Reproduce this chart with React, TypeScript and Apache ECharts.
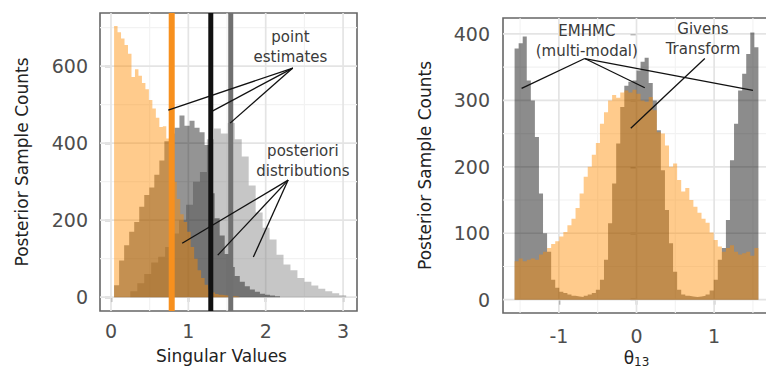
import React, { useEffect, useRef } from "react";
import * as echarts from "echarts";

// ---------- data: left panel (singular values) ----------
const svTicksX = [0, 1, 2, 3];
const svTicksY = [0, 200, 400, 600];
const svMinorX = [0.5, 1.5, 2.5];
const svMinorY = [100, 300, 500, 700];

const svOrangeStart = 0.04;
const svOrangeWidth = 0.045;
const svOrange = [704, 688, 672, 655, 632, 572, 592, 575, 556, 540, 512, 490, 466, 442, 444, 412, 380, 300, 255, 215, 195, 170, 130, 100, 70, 50, 32, 20, 12, 8, 6, 5, 4, 3, 2, 1];

const svBlackStart = 0.04;
const svBlackWidth = 0.065;
const svBlack = [31, 95, 135, 170, 195, 235, 265, 285, 318, 355, 405, 425, 440, 472, 445, 458, 440, 428, 395, 270, 205, 160, 112, 78, 55, 40, 28, 20, 14, 9, 6, 4, 2];

const svGreyStart = 0.25;
const svGreyWidth = 0.09;
const svGrey = [15, 36, 60, 90, 105, 130, 165, 200, 240, 300, 325, 410, 438, 425, 452, 410, 365, 290, 220, 180, 150, 110, 85, 70, 50, 40, 30, 22, 15, 10, 5];

const svPointEstimates = [0.785, 1.29, 1.548];

const svPointFrom = [2.35, 595];
const svPointTo = [[0.74, 486], [1.31, 483], [1.54, 452]];
const svPostFrom = [2.29, 304];
const svPostTo = [[0.92, 140], [1.38, 109], [1.84, 104]];
const svTexts = ["point\nestimates", "posteriori\ndistributions"];
const svTextPos = [[2.32, 649], [2.48, 354]];

// ---------- data: right panel (theta_13) ----------
const thTicksX = [-1, 0, 1];
const thTicksY = [0, 100, 200, 300, 400];
const thMinorX = [-1.5, -0.5, 0.5, 1.5];
const thMinorY = [50, 150, 250, 350];

const thStart = -1.5708;
const thWidth = 0.05236;
const givens = [58, 62, 58, 60, 62, 60, 68, 72, 78, 84, 88, 95, 102, 112, 122, 138, 160, 185, 200, 218, 236, 265, 282, 300, 308, 304, 312, 315, 312, 316, 310, 300, 298, 305, 285, 252, 250, 232, 200, 205, 180, 163, 168, 150, 140, 131, 122, 116, 101, 90, 80, 72, 78, 82, 72, 68, 70, 72, 66, 78];
const emhmc = [378, 386, 396, 330, 300, 245, 160, 100, 72, 30, 18, 12, 10, 8, 6, 5, 4, 6, 8, 10, 15, 30, 60, 115, 175, 235, 290, 322, 328, 330, 345, 358, 364, 326, 300, 255, 195, 135, 85, 42, 15, 8, 6, 5, 4, 5, 6, 8, 14, 30, 60, 78, 120, 210, 265, 315, 340, 370, 402, 380];

const thEmFrom = [-0.667, 363];
const thEmTo = [[-1.48, 318], [0.107, 319], [1.5, 315]];
const thGivFrom = [0.88, 363];
const thGivTo = [[-0.074, 258]];
const thTexts = ["EMHMC\n(multi-modal)", "Givens\nTransform"];
const thTextPos = [[-0.64, 390], [0.856, 392]];

// ---------- helpers ----------
const FONT = '"DejaVu Sans", sans-serif';
const TICK_COLOR = "#4D4D4D";
const TITLE_COLOR = "#222222";
const TICK_SIZE = 19;

function histData(start: number, width: number, counts: number[]) {
  const pts: number[][] = counts.map((c, i) => [start + i * width, c]);
  pts.push([start + counts.length * width, counts[counts.length - 1]]);
  return pts;
}

function histSeries(gi: number, start: number, width: number, counts: number[], color: string, opacity: number, z: number) {
  return {
    type: "line",
    xAxisIndex: gi,
    yAxisIndex: gi,
    data: histData(start, width, counts),
    step: "end",
    symbol: "none",
    showSymbol: false,
    silent: true,
    lineStyle: { width: 0, opacity: 0 },
    areaStyle: { color, opacity },
    z,
  };
}

function gridLineSeries(gi: number, xs: number[], ys: number[], major: boolean) {
  const data: number[][] = [];
  xs.forEach((v) => data.push([v, 0]));
  ys.forEach((v) => data.push([v, 1]));
  return {
    type: "custom",
    xAxisIndex: gi,
    yAxisIndex: gi,
    silent: true,
    z: 1,
    data,
    renderItem: (params: any, api: any) => {
      const v = api.value(0);
      const dir = api.value(1);
      const cs = params.coordSys;
      let shape;
      if (dir === 0) {
        const p = api.coord([v, 0]);
        shape = { x1: p[0], y1: cs.y, x2: p[0], y2: cs.y + cs.height };
      } else {
        const p = api.coord([0, v]);
        shape = { x1: cs.x, y1: p[1], x2: cs.x + cs.width, y2: p[1] };
      }
      return {
        type: "line",
        shape,
        style: { stroke: major ? "#E4E4E4" : "#F2F2F2", lineWidth: major ? 1.7 : 1.1 },
      };
    },
  };
}

function vLineSeries(gi: number, x: number, yMin: number, yMax: number, color: string, width: number) {
  return {
    type: "line",
    xAxisIndex: gi,
    yAxisIndex: gi,
    data: [[x, yMin], [x, yMax]],
    symbol: "none",
    silent: true,
    lineStyle: { color, width },
    z: 3,
  };
}

function segSeries(gi: number, from: number[], tos: number[][]) {
  return {
    type: "custom",
    xAxisIndex: gi,
    yAxisIndex: gi,
    silent: true,
    z: 4,
    data: tos.map((t) => [from[0], from[1], t[0], t[1]]),
    renderItem: (params: any, api: any) => {
      const a = api.coord([api.value(0), api.value(1)]);
      const b = api.coord([api.value(2), api.value(3)]);
      return {
        type: "line",
        shape: { x1: a[0], y1: a[1], x2: b[0], y2: b[1] },
        style: { stroke: "#111111", lineWidth: 1.3 },
      };
    },
  };
}

function textSeries(gi: number, pos: number[][], texts: string[]) {
  return {
    type: "custom",
    xAxisIndex: gi,
    yAxisIndex: gi,
    silent: true,
    z: 5,
    data: pos,
    renderItem: (params: any, api: any) => {
      const p = api.coord([api.value(0), api.value(1)]);
      return {
        type: "text",
        x: p[0],
        y: p[1],
        style: {
          text: texts[params.dataIndex],
          fill: "#3A3A3A",
          fontSize: 15,
          fontFamily: FONT,
          align: "center",
          verticalAlign: "middle",
          lineHeight: 20,
        },
      };
    },
  };
}

function xAxisDef(gi: number, min: number, max: number, ticks: number[], name: string, nameGap: number, margin: number, extraName?: any) {
  return {
    gridIndex: gi,
    type: "value",
    min,
    max,
    axisLine: { show: false },
    splitLine: { show: false },
    axisTick: { show: true, length: 5, customValues: ticks, lineStyle: { color: "#333333", width: 1.3 } },
    axisLabel: { customValues: ticks, fontSize: TICK_SIZE, fontFamily: FONT, color: TICK_COLOR, margin },
    name,
    nameLocation: "middle",
    nameGap,
    nameTextStyle: Object.assign({ fontSize: 17, fontFamily: FONT, color: TITLE_COLOR }, extraName || {}),
  };
}

function yAxisDef(gi: number, min: number, max: number, ticks: number[], margin: number, nameGap: number) {
  return {
    gridIndex: gi,
    type: "value",
    min,
    max,
    axisLine: { show: false },
    splitLine: { show: false },
    axisTick: { show: true, length: 6, customValues: ticks, lineStyle: { color: "#333333", width: 1.3 } },
    axisLabel: { customValues: ticks, fontSize: TICK_SIZE, fontFamily: FONT, color: TICK_COLOR, margin },
    name: "Posterior Sample Counts",
    nameLocation: "middle",
    nameGap,
    nameTextStyle: { fontSize: 17, fontFamily: FONT, color: TITLE_COLOR },
  };
}

const SV_X = [-0.142, 3.18];
const SV_Y = [-36, 738];
const TH_X = [-1.72, 1.72];
const TH_Y = [-20, 424];

export default function App() {
  const ref = useRef<HTMLDivElement>(null);
  useEffect(() => {
    if (!ref.current) return;
    const chart = echarts.init(ref.current, undefined, { renderer: "svg" });
    const option: any = {
      animation: false,
      backgroundColor: "#ffffff",
      grid: [
        { left: 100, top: 13, width: 257, height: 298, show: true, borderColor: "#666666", borderWidth: 1.6, backgroundColor: "#ffffff", outerBoundsMode: "none", containLabel: false },
        { left: 503, top: 18, width: 267, height: 295, show: true, borderColor: "#666666", borderWidth: 1.6, backgroundColor: "#ffffff", outerBoundsMode: "none", containLabel: false },
      ],
      xAxis: [
        xAxisDef(0, SV_X[0], SV_X[1], svTicksX, "Singular Values", 36, 10, { padding: [0, 14, 0, 0] }),
        xAxisDef(1, TH_X[0], TH_X[1], thTicksX, "{t|θ}{s|13}", 35, 13, {
          rich: {
            t: { fontSize: 17, fontFamily: FONT, color: TITLE_COLOR, lineHeight: 20, verticalAlign: "middle" },
            s: { fontSize: 12, fontFamily: FONT, color: TITLE_COLOR, verticalAlign: "bottom", lineHeight: 12 },
          },
        }),
      ],
      yAxis: [
        yAxisDef(0, SV_Y[0], SV_Y[1], svTicksY, 12, 70),
        yAxisDef(1, TH_Y[0], TH_Y[1], thTicksY, 13, 70),
      ],
      series: [
        gridLineSeries(0, svMinorX, svMinorY, false),
        gridLineSeries(0, svTicksX, svTicksY, true),
        gridLineSeries(1, thMinorX, thMinorY, false),
        gridLineSeries(1, thTicksX, thTicksY, true),
        histSeries(0, svGreyStart, svGreyWidth, svGrey, "#808080", 0.45, 2),
        histSeries(0, svBlackStart, svBlackWidth, svBlack, "#000000", 0.42, 2),
        histSeries(0, svOrangeStart, svOrangeWidth, svOrange, "#FF8C00", 0.45, 2),
        histSeries(1, thStart, thWidth, emhmc, "#000000", 0.45, 2),
        histSeries(1, thStart, thWidth, givens, "#FF8C00", 0.45, 2),
        vLineSeries(0, svPointEstimates[0], SV_Y[0], SV_Y[1], "#F7901E", 6),
        vLineSeries(0, svPointEstimates[1], SV_Y[0], SV_Y[1], "#111111", 5),
        vLineSeries(0, svPointEstimates[2], SV_Y[0], SV_Y[1], "#707070", 5),
        segSeries(0, svPointFrom, svPointTo),
        segSeries(0, svPostFrom, svPostTo),
        segSeries(1, thEmFrom, thEmTo),
        segSeries(1, thGivFrom, thGivTo),
        textSeries(0, svTextPos, svTexts),
        textSeries(1, thTextPos, thTexts),
      ],
    };
    chart.setOption(option);
    return () => chart.dispose();
  }, []);
  return (
    <div
      ref={ref}
      style={{ position: "absolute", left: 0, top: 0, width: 766, height: 371, overflow: "hidden", background: "#fff" }}
    />
  );
}
